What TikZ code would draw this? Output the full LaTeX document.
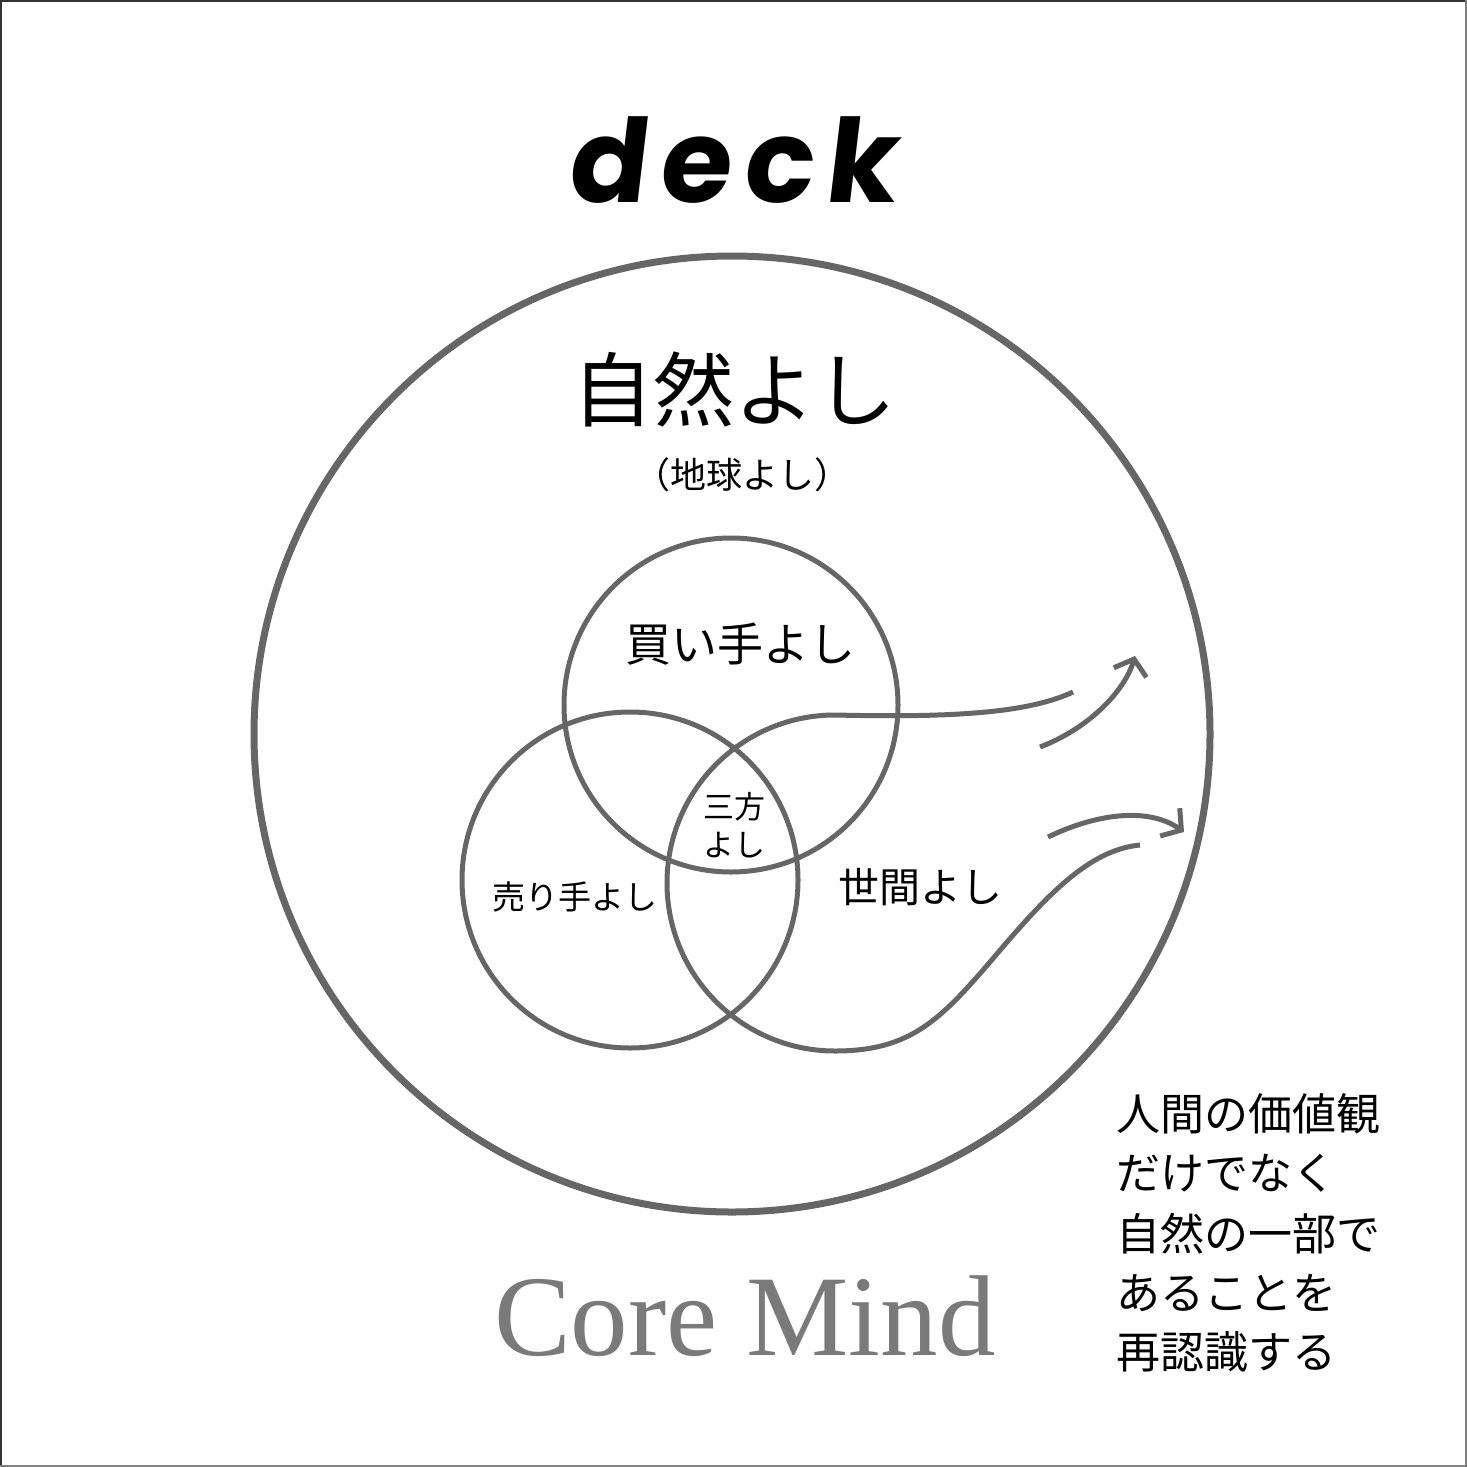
\documentclass[tikz,border=0pt]{standalone}
\usepackage{fontspec}
\newfontfamily\jp{Noto Sans CJK JP}
\newfontfamily\deckfont{Poppins}[FakeSlant=0.12]
\newfontfamily\coreserif{Liberation Serif}
\usetikzlibrary{arrows.meta}
\definecolor{ringgray}{HTML}{666666}
\definecolor{coregray}{HTML}{7A7A7A}
\definecolor{framedark}{HTML}{333333}
\definecolor{framelight}{HTML}{808080}
\tikzset{
  bigring/.style={circle, draw=ringgray, line width=7pt, inner sep=0pt},
  ring/.style={circle, draw=ringgray, line width=5pt, inner sep=0pt},
  flowline/.style={draw=ringgray, line width=5pt},
  flowarrow/.style={draw=ringgray, line width=5pt, -{Straight Barb[length=14pt,width=34pt]}},
  jplabel/.style={inner sep=0pt, text=black},
}
\begin{document}
\begin{tikzpicture}[x=1pt,y=-1pt]
\useasboundingbox (0,0) rectangle (1467,1467);
\fill[white] (0,0) rectangle (1467,1467);
% frame
\coordinate (fbl) at (1.2,1467);
\coordinate (ftl) at (1.2,1.2);
\coordinate (ftr) at (1467,1.2);
\coordinate (fr) at (1466,0);
\coordinate (fbr) at (1466,1466);
\coordinate (fb) at (0,1466);
\draw[framedark, line width=2.4pt] (fbl) -- (ftl) -- (ftr);
\draw[framelight, line width=2pt] (fr) -- (fbr) -- (fb);

% title
\node (deck) [anchor=base, inner sep=0pt] at (731,202)
  {\deckfont\bfseries\fontsize{116}{116}\selectfont d\hspace{12pt}e\hspace{12pt}c\hspace{12pt}k};

% rings
\node (nature) [bigring, minimum size=956pt] at (732,734) {};
\node (buyer) [ring, minimum size=334pt] at (731,705) {};
\node (seller) [ring, minimum size=336pt] at (630,880) {};

% society ring, opened into the two flows
\coordinate (upend) at (1073,692);
\coordinate (soctop) at (835,715);
\coordinate (socmid) at (990,962);
\coordinate (lowend) at (1140,845);
\draw[flowline] (upend) .. controls (1030,712) and (960,718) .. (soctop)
  arc[start angle=-90, end angle=-270, radius=168]
  .. controls (910,1051) and (940,1020) .. (socmid)
  .. controls (1045,897) and (1088,850) .. (lowend);

% arrows
\coordinate (ua0) at (1040,747);
\coordinate (ua1) at (1135,656);
\coordinate (la0) at (1048,837);
\coordinate (la1) at (1184,832);
\draw[flowarrow] (ua0) .. controls (1090,728) and (1125,690) .. (ua1);
\draw[flowarrow] (la0) .. controls (1100,812) and (1150,808) .. (la1);

% labels
\node (shizen) [jplabel, font=\jp\fontsize{81}{81}\selectfont] at (734,389) {自然よし};
\node (chikyu) [jplabel, font=\jp\fontsize{36}{36}\selectfont] at (742,475) {（地球よし）};
\node (kaite) [jplabel, font=\jp\fontsize{46}{46}\selectfont] at (740,644) {買い手よし};
\node (sanpo1) [jplabel, font=\jp\fontsize{31}{31}\selectfont] at (734,807) {三方};
\node (sanpo2) [jplabel, font=\jp\fontsize{31}{31}\selectfont] at (734,845) {よし};
\node (urite) [jplabel, font=\jp\fontsize{33}{33}\selectfont] at (575,897) {売り手よし};
\node (seken) [jplabel, font=\jp\fontsize{41}{41}\selectfont] at (920,887) {世間よし};

% side text
\tikzset{sidetext/.style={jplabel, anchor=west, font=\jp\fontsize{44}{44}\selectfont}}
\node (s1) [sidetext] at (1116,1114) {人間の価値観};
\node (s2) [sidetext] at (1116,1173) {だけでなく};
\node (s3) [sidetext] at (1116,1234) {自然の一部で};
\node (s4) [sidetext] at (1116,1293) {あることを};
\node (s5) [sidetext] at (1116,1352) {再認識する};

% core mind
\node (core) [anchor=base, inner sep=0pt, text=coregray] at (745,1355)
  {\coreserif\fontsize{115}{115}\selectfont Core Mind};
\end{tikzpicture}
\end{document}
